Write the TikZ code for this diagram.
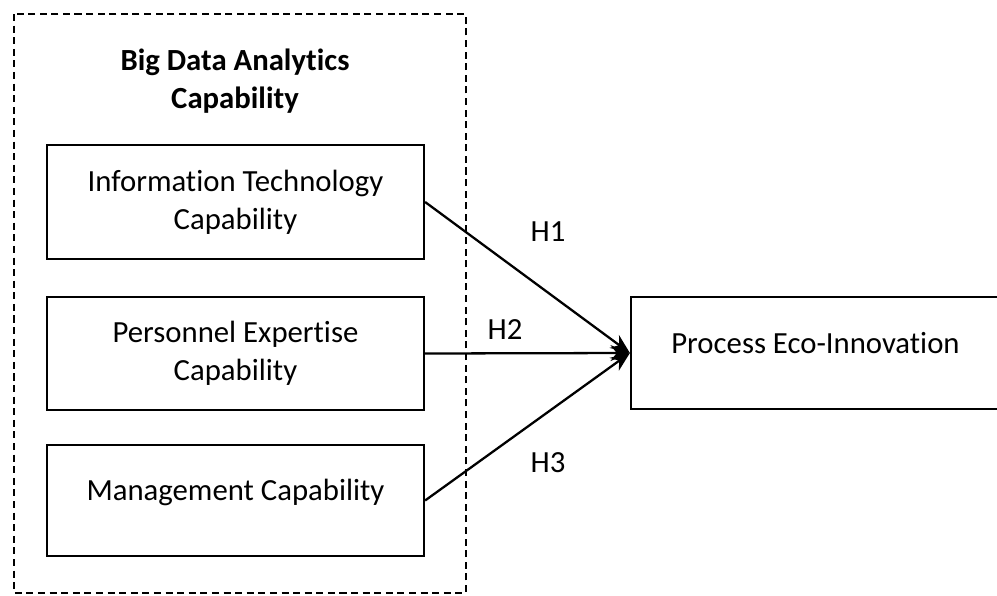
\documentclass[tikz,border=0pt]{standalone}
\usepackage{fontspec}
\setmainfont{Carlito}[Ligatures=NoCommon]
\usepackage{tikz}
\usetikzlibrary{arrows.meta}

\begin{document}
\begin{tikzpicture}[auto, x=0.02cm, y=-0.02cm,
    every node/.style={font=\fontsize{17.5}{21.5}\selectfont},
    capbox/.style={draw, line width=1.3pt, minimum width=7.54cm, minimum height=2.27cm, align=center, inner sep=0pt},
    lowpad/.style={text height=11pt, text depth=11pt},
    hyparrow/.style={line width=1.3pt, -{Stealth[length=11pt, width=9pt, inset=3.5pt]}}]
      \useasboundingbox (0,0) rectangle (997,595);
      \draw[line width=1.3pt, dash pattern=on 4pt off 2.6pt] (14,14) rectangle (466,593);
      \node[align=center, font=\fontsize{17.5}{21.5}\selectfont\bfseries] (bda) at (235,81) {Big Data Analytics\\Capability};

      \node[capbox] (itc) at (235.5,202) {Information Technology\\Capability};
      \node[capbox] (pec) at (235.5,353.5) {Personnel Expertise\\Capability};
      \node[capbox, lowpad, minimum height=2.22cm] (mc) at (235.5,500.5) {Management Capability};
      \node[capbox, lowpad, minimum width=7.38cm, minimum height=2.24cm] (pei) at (815.5,353) {Process Eco-Innovation};

      \node (h1) at (548,232) {H1}; \node (h2) at (505,330) {H2}; \node (h3) at (548,463) {H3};

      \draw[hyparrow] (itc.east) to (pei.west); \draw[hyparrow] (pec.east) to (pei.west);
      \draw[hyparrow] (mc.east) to (pei.west);
    \end{tikzpicture}
\end{document}
